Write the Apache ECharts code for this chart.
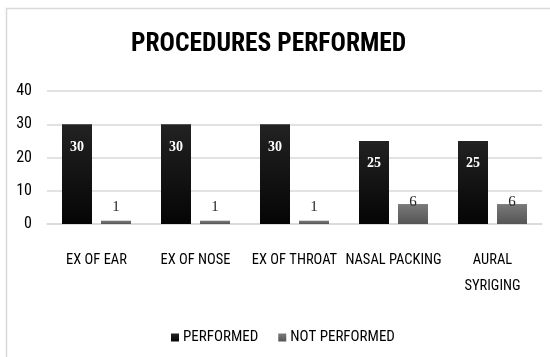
<!DOCTYPE html>
<html>
<head>
<meta charset="utf-8">
<script src="https://cdn.jsdelivr.net/npm/echarts@6/dist/echarts.min.js"></script>
<style>
  html, body { margin: 0; padding: 0; background: #fff; }
  #chart { width: 550px; height: 357px; }
</style>
</head>
<body>
<div id="chart"></div>
<script>
// Procedures performed vs. not performed
const categories = ['EX OF EAR', 'EX OF NOSE', 'EX OF THROAT', 'NASAL PACKING', 'AURAL\nSYRIGING'];
const performed = [30, 30, 30, 25, 25];
const notPerformed = [1, 1, 1, 6, 6];
const yTicks = [0, 10, 20, 30, 40];

const narrow = '"Roboto Condensed", "Liberation Sans Narrow", sans-serif';
const serif = '"Liberation Serif", "Times New Roman", serif';

const chart = echarts.init(document.getElementById('chart'), null, { renderer: 'canvas' });

function grad(top, bottom) {
  return new echarts.graphic.LinearGradient(0, 0, 0, 1, [
    { offset: 0, color: top },
    { offset: 1, color: bottom }
  ]);
}

chart.setOption({
  animation: false,
  backgroundColor: '#fff',
  graphic: [{
    type: 'rect',
    shape: { x: 6.5, y: 8.5, width: 560, height: 360 },
    style: { fill: 'none', stroke: '#d9d9d9', lineWidth: 1.5 },
    silent: true
  }],
  title: {
    text: 'PROCEDURES PERFORMED',
    left: 126,
    top: 27,
    textStyle: { fontFamily: narrow, fontWeight: 'bold', fontSize: 25.5, color: '#000' }
  },
  legend: {
    data: ['PERFORMED', 'NOT PERFORMED'],
    left: 166,
    top: 325,
    itemWidth: 8,
    itemHeight: 8,
    itemGap: 20,
    icon: 'rect',
    textStyle: { fontFamily: narrow, fontSize: 15, color: '#000', padding: [0, 0, 0, -1] }
  },
  grid: { left: 47, right: 8, top: 91, bottom: 133 },
  xAxis: {
    type: 'category',
    data: categories,
    axisLine: { lineStyle: { color: '#d9d9d9', width: 1.5 } },
    axisTick: { show: false },
    axisLabel: {
      fontFamily: narrow, fontSize: 14.5, color: '#000',
      margin: 23, lineHeight: 26, interval: 0
    }
  },
  yAxis: {
    type: 'value',
    min: yTicks[0],
    max: yTicks[yTicks.length - 1],
    interval: 10,
    axisLine: { show: false },
    axisTick: { show: false },
    splitLine: { lineStyle: { color: '#d9d9d9', width: 1.5 } },
    axisLabel: { fontFamily: narrow, fontSize: 16, color: '#000', margin: 15 }
  },
  series: [
    {
      name: 'PERFORMED',
      type: 'bar',
      data: performed,
      barWidth: 30,
      barGap: '30%',
      itemStyle: { color: grad('#222', '#050505') },
      label: {
        show: true,
        position: 'insideTop',
        distance: 16,
        fontFamily: serif,
        fontWeight: 'bold',
        fontSize: 14,
        color: '#fff'
      }
    },
    {
      name: 'NOT PERFORMED',
      type: 'bar',
      data: notPerformed.map(v => ({
        value: v,
        label: v < 3 ? { position: 'top', distance: 6 } : { position: 'insideTop', distance: -9 }
      })),
      barWidth: 30,
      itemStyle: { color: grad('#7a7a7a', '#555') },
      label: {
        show: true,
        fontFamily: serif,
        fontSize: 15,
        color: '#262626'
      }
    }
  ]
});
</script>
</body>
</html>
